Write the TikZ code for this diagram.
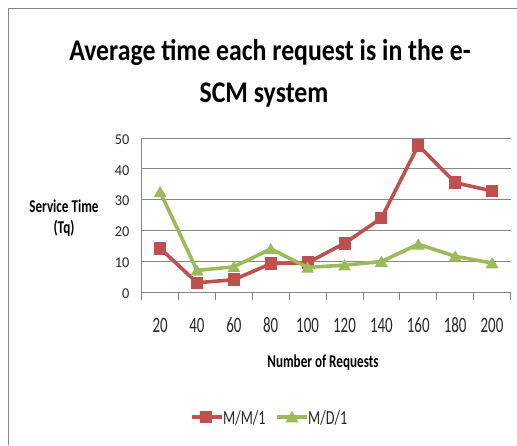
\documentclass[tikz,border=0pt]{standalone}
\usepackage{fontspec}
\setmainfont{Carlito}
\newfontfamily\titlefont[FakeStretch=0.86]{Carlito}
\newfontfamily\ylblfont[FakeStretch=0.95]{Carlito}
\newfontfamily\xlblfont[FakeStretch=0.68]{Carlito}
\newfontfamily\axfont[FakeStretch=0.73]{Carlito}
\newfontfamily\legfont[FakeStretch=0.71]{Carlito}
\usetikzlibrary{shapes.geometric}
\definecolor{mmred}{HTML}{C0504D}
\definecolor{mdgreen}{HTML}{9BBB59}
\definecolor{gridgray}{HTML}{868686}
\tikzset{
  frameline/.style={draw=gridgray, line width=1.6pt},
  gridline/.style={draw=gridgray, line width=0.9pt},
  axisline/.style={draw=gridgray, line width=0.9pt},
  series/.style={line width=3.6pt, line join=round},
  sqmark/.style={rectangle, fill=mmred, minimum width=12pt, minimum height=12.5pt, inner sep=0pt},
  trimark/.style={regular polygon, regular polygon sides=3, fill=mdgreen, minimum size=15pt, inner sep=0pt},
  ylbl/.style={font=\ylblfont\fontsize{15}{15}\selectfont, text=black!85, inner sep=0pt},
  xlbl/.style={font=\xlblfont\fontsize{22}{22}\selectfont, text=black!85, inner sep=0pt},
  axtitle/.style={font=\axfont\bfseries\fontsize{18}{21}\selectfont, align=center, inner sep=0pt},
  legtext/.style={font=\legfont\fontsize{20}{20}\selectfont, text=black!85, inner sep=0pt, anchor=west},
  titletext/.style={font=\titlefont\bfseries\fontsize{30}{30}\selectfont, inner sep=0pt, anchor=base},
}
\begin{document}
\begin{tikzpicture}[x=1pt,y=-1pt]
\useasboundingbox (0,0) rectangle (517,445);
% outer chart frame
\draw[frameline] (8.5,445) -- (8.5,8.5) -- (517,8.5);
% title
\node[titletext] (title1) at (270,60) {Average time each request is in the e-};
\node[titletext] (title2) at (264,102) {SCM system};
% horizontal grid lines and value labels
\foreach \v in {10,20,30,40,50}
  \draw[gridline] (141.7,{292-3.08*\v}) -- (510.5,{292-3.08*\v});
\foreach \v in {0,10,20,30,40,50}
  \node[ylbl, anchor=east] (y\v) at (129.5,{293.5-3.08*\v}) {\v};
% axes
\draw[axisline] (141.7,{292-3.08*50}) -- (141.7,292);
\draw[axisline] (141.7,292) -- (510.5,292);
\foreach \k in {0,...,10}
  \draw[axisline] ({141.7+36.88*\k},292) -- ({141.7+36.88*\k},300);
% category labels
\foreach \lbl [count=\i] in {20,40,60,80,100,120,140,160,180,200}
  \node[xlbl] (x\lbl) at ({160.1+36.88*(\i-1)},325) {\lbl};
% axis titles
\node[axtitle] (ytitle) at (64,218) {Service Time\\(Tq)};
\node[axtitle] (xtitle) at (323,363) {Number of Requests};
% M/M/1 series
\draw[series, mmred] plot coordinates {
  (160.1,{292-3.08*14.2}) (197.0,{292-3.08*3}) (233.9,{292-3.08*4}) (270.8,{292-3.08*9.2})
  (307.6,{292-3.08*9.5}) (344.5,{292-3.08*15.8}) (381.4,{292-3.08*24}) (418.3,{292-3.08*47.6})
  (455.2,{292-3.08*35.5}) (492.1,{292-3.08*32.8})};
\foreach \xx/\vv in {160.1/14.2,197.0/3,233.9/4,270.8/9.2,307.6/9.5,344.5/15.8,381.4/24,418.3/47.6,455.2/35.5,492.1/32.8}
  \node[sqmark] at (\xx,{292-3.08*\vv}) {};
% M/D/1 series
\draw[series, mdgreen] plot coordinates {
  (160.1,{292-3.08*32.5}) (197.0,{292-3.08*7}) (233.9,{292-3.08*8.2}) (270.8,{292-3.08*14})
  (307.6,{292-3.08*8}) (344.5,{292-3.08*8.7}) (381.4,{292-3.08*9.9}) (418.3,{292-3.08*15.5})
  (455.2,{292-3.08*11.6}) (492.1,{292-3.08*9.4})};
\foreach \xx/\vv in {160.1/32.5,197.0/7,233.9/8.2,270.8/14,307.6/8,344.5/8.7,381.4/9.9,418.3/15.5,455.2/11.6,492.1/9.4}
  \node[trimark] at (\xx,{292-3.08*\vv+1.5}) {};
% legend
\coordinate (la) at (192,417);
\coordinate (lb) at (222,417);
\draw[series, mmred] (la) -- (lb);
\node[sqmark] (lmm) at (206,417) {};
\node[legtext] (tmm) at (223,418) {M/M/1};
\coordinate (lc) at (277,417);
\coordinate (ld) at (307,417);
\draw[series, mdgreen] (lc) -- (ld);
\node[trimark] (lmd) at (292,418.5) {};
\node[legtext] (tmd) at (308,418) {M/D/1};
\end{tikzpicture}
\end{document}
